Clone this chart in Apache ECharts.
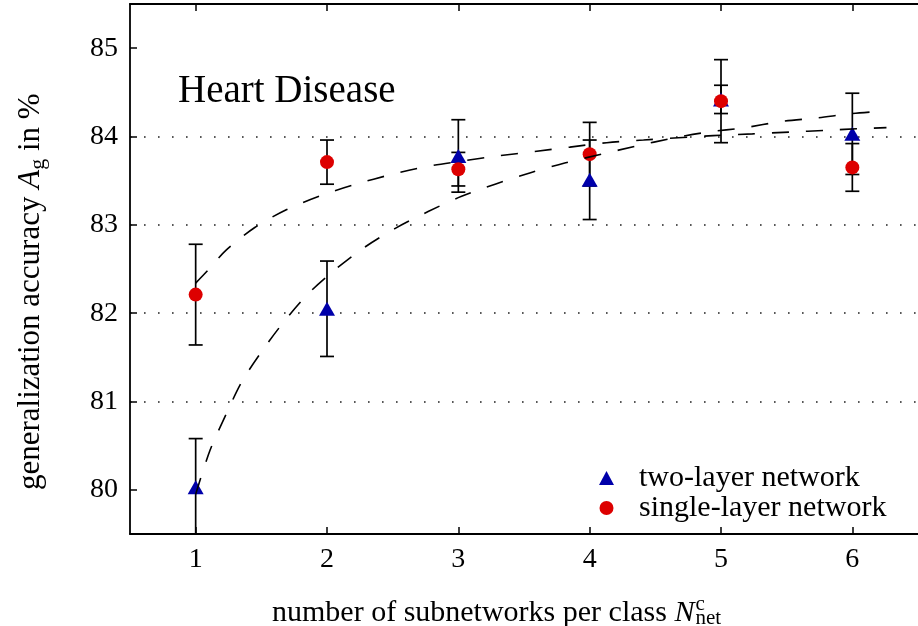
<!DOCTYPE html>
<html>
<head>
<meta charset="utf-8">
<script src="https://cdn.jsdelivr.net/npm/echarts@6/dist/echarts.min.js"></script>
<style>
html, body { margin: 0; padding: 0; background: #fff; }
#chart { width: 918px; height: 626px; }
</style>
</head>
<body>
<div id="chart"></div>
<script>
// measured points with error bars
var subnets = [1, 2, 3, 4, 5, 6];
var twoLayer = [80.03, 82.05, 83.78, 83.51, 84.42, 84.03];
var twoLayerErr = [0.55, 0.54, 0.41, 0.45, 0.16, 0.46];
var singleLayer = [82.21, 83.71, 83.63, 83.80, 84.40, 83.65];
var singleLayerErr = [0.57, 0.25, 0.19, 0.36, 0.47, 0.27];

// dashed fit curves
var twoFitX = [1.00, 1.11, 1.23, 1.35, 1.50, 1.67, 1.85, 2.06, 2.28, 2.52, 2.77, 3.02, 3.28, 3.55, 3.81, 4.09, 4.35, 4.63, 4.90, 5.18, 5.46, 5.73, 6.00, 6.26];
var twoFitY = [79.95, 80.45, 80.85, 81.22, 81.56, 81.90, 82.21, 82.49, 82.74, 82.96, 83.15, 83.32, 83.46, 83.59, 83.70, 83.80, 83.89, 83.98, 84.05, 84.10, 84.17, 84.21, 84.26, 84.29];
var singleFitX = [1.00, 1.09, 1.23, 1.45, 1.69, 1.95, 2.22, 2.49, 2.76, 3.02, 3.30, 3.58, 3.85, 4.13, 4.41, 4.94, 5.24, 5.52, 5.80, 6.08, 6.26];
var singleFitY = [82.34, 82.48, 82.71, 82.97, 83.17, 83.33, 83.46, 83.57, 83.66, 83.72, 83.78, 83.83, 83.88, 83.93, 83.96, 84.01, 84.03, 84.05, 84.07, 84.09, 84.10];

var xTicks = [1, 2, 3, 4, 5, 6];
var yTicks = [80, 81, 82, 83, 84, 85];

var RED = '#dd0000';
var BLUE = '#0000aa';
var FONT = '"Liberation Serif", "DejaVu Serif", serif';

var chart = echarts.init(document.getElementById('chart'));

var ctx = document.createElement('canvas').getContext('2d');
function textWidth(str, size, style) {
	ctx.font = (style || 'normal') + ' ' + size + 'px ' + FONT;
	return ctx.measureText(str).width;
}

function zip(a, b, c) {
	var out = [];
	for (var i = 0; i < a.length; i++) {
		out.push(c ? [a[i], b[i], c[i]] : [a[i], b[i]]);
	}
	return out;
}

function errorBar(params, api) {
	var x = api.value(0);
	var hi = api.coord([x, api.value(1) + api.value(2)]);
	var lo = api.coord([x, api.value(1) - api.value(2)]);
	var cs = params.coordSys;
	var top = Math.max(hi[1], cs.y);
	var bot = Math.min(lo[1], cs.y + cs.height);
	var half = 7;
	var st = { stroke: '#000', lineWidth: 1.7 };
	var kids = [{ type: 'line', shape: { x1: hi[0], y1: top, x2: hi[0], y2: bot }, style: st }];
	if (hi[1] >= cs.y) kids.push({ type: 'line', shape: { x1: hi[0] - half, y1: hi[1], x2: hi[0] + half, y2: hi[1] }, style: st });
	if (lo[1] <= cs.y + cs.height) kids.push({ type: 'line', shape: { x1: lo[0] - half, y1: lo[1], x2: lo[0] + half, y2: lo[1] }, style: st });
	return { type: 'group', children: kids };
}

// x axis title with N^c_net
var xl = 'number of subnetworks per class ';
var xlW = textWidth(xl, 30);
var nW = textWidth('N', 30, 'italic');
var xLabel = {
	type: 'group', left: 272, top: 594,
	children: [
		{ type: 'text', x: 0, y: 12, style: { text: xl, font: '30px ' + FONT, fill: '#000', verticalAlign: 'middle' } },
		{ type: 'text', x: xlW, y: 12, style: { text: 'N', font: 'italic 30px ' + FONT, fill: '#000', verticalAlign: 'middle' } },
		{ type: 'text', x: xlW + nW + 1, y: 3, style: { text: 'c', font: '21px ' + FONT, fill: '#000', verticalAlign: 'middle' } },
		{ type: 'text', x: xlW + nW + 1, y: 17, style: { text: 'net', font: '21px ' + FONT, fill: '#000', verticalAlign: 'middle' } }
	]
};

// rotated y axis title with A_g
var yl = 'generalization accuracy ';
var ylW = textWidth(yl, 31);
var aW = textWidth('A', 31, 'italic');
var gW = textWidth('g', 22);
var yLabel = {
	type: 'group', x: 31, y: 490, rotation: Math.PI / 2,
	children: [
		{ type: 'text', x: 0, y: 0, style: { text: yl, font: '31px ' + FONT, fill: '#000', verticalAlign: 'middle' } },
		{ type: 'text', x: ylW, y: 0, style: { text: 'A', font: 'italic 31px ' + FONT, fill: '#000', verticalAlign: 'middle' } },
		{ type: 'text', x: ylW + aW, y: 7, style: { text: 'g', font: '22px ' + FONT, fill: '#000', verticalAlign: 'middle' } },
		{ type: 'text', x: ylW + aW + gW, y: 0, style: { text: ' in %', font: '31px ' + FONT, fill: '#000', verticalAlign: 'middle' } }
	]
};

var option = {
	animation: false,
	backgroundColor: '#fff',
	grid: { left: 130, right: -6, top: 4, bottom: 92, containLabel: false },
	legend: {
		data: ['two-layer network', 'single-layer network'],
		orient: 'vertical',
		left: 599, top: 463,
		padding: 0,
		itemGap: 0,
		itemWidth: 15, itemHeight: 14,
		itemStyle: { opacity: 1 },
		textStyle: { fontFamily: FONT, fontSize: 30, color: '#000', lineHeight: 28, padding: [0, 0, 0, 20] },
		selectedMode: false
	},
	xAxis: [{
		type: 'value', min: 0.5, max: 6.5, position: 'bottom',
		axisLine: { lineStyle: { color: '#000', width: 1.8 } },
		axisTick: { inside: true, length: 7, customValues: xTicks, lineStyle: { color: '#000', width: 1.5 } },
		axisLabel: { customValues: xTicks, margin: 12, fontFamily: FONT, fontSize: 28, color: '#000' },
		splitLine: { show: false }
	}, {
		type: 'value', min: 0.5, max: 6.5, position: 'top',
		axisLine: { lineStyle: { color: '#000', width: 1.8 } },
		axisTick: { inside: true, length: 7, customValues: xTicks, lineStyle: { color: '#000', width: 1.5 } },
		axisLabel: { show: false },
		splitLine: { show: false }
	}],
	yAxis: {
		type: 'value', min: 79.5, max: 85.5,
		axisLine: { show: true, lineStyle: { color: '#000', width: 1.8 } },
		axisTick: { show: true, inside: true, length: 7, customValues: yTicks, lineStyle: { color: '#000', width: 1.5 } },
		axisLabel: { customValues: yTicks, margin: 12, fontFamily: FONT, fontSize: 28, color: '#000' },
		splitLine: { show: true, showMinLine: false, showMaxLine: false, lineStyle: { color: '#222', width: 1.6, type: [1.6, 12.4] } }
	},
	graphic: [
		{ type: 'text', left: 178, top: 72, style: { text: 'Heart Disease', font: '39px ' + FONT, fill: '#000' } },
		xLabel,
		yLabel
	],
	series: [
		{
			type: 'line', data: zip(twoFitX, twoFitY), smooth: 0.3, showSymbol: false, silent: true,
			lineStyle: { color: '#000', width: 1.6, type: [17, 17] }
		},
		{
			type: 'line', data: zip(singleFitX, singleFitY), smooth: 0.3, showSymbol: false, silent: true,
			lineStyle: { color: '#000', width: 1.6, type: [17, 17] }
		},
		{
			type: 'custom', renderItem: errorBar, silent: true,
			encode: { x: 0, y: 1 },
			data: zip(subnets, twoLayer, twoLayerErr)
		},
		{
			name: 'two-layer network', type: 'scatter', symbol: 'triangle', symbolSize: [16, 14],
			itemStyle: { color: BLUE, opacity: 1 }, silent: true,
			data: zip(subnets, twoLayer)
		},
		{
			type: 'custom', renderItem: errorBar, silent: true,
			encode: { x: 0, y: 1 },
			data: zip(subnets, singleLayer, singleLayerErr)
		},
		{
			name: 'single-layer network', type: 'scatter', symbol: 'circle', symbolSize: 14,
			itemStyle: { color: RED, opacity: 1 }, silent: true,
			data: zip(subnets, singleLayer)
		}
	]
};

chart.setOption(option);
</script>
</body>
</html>
